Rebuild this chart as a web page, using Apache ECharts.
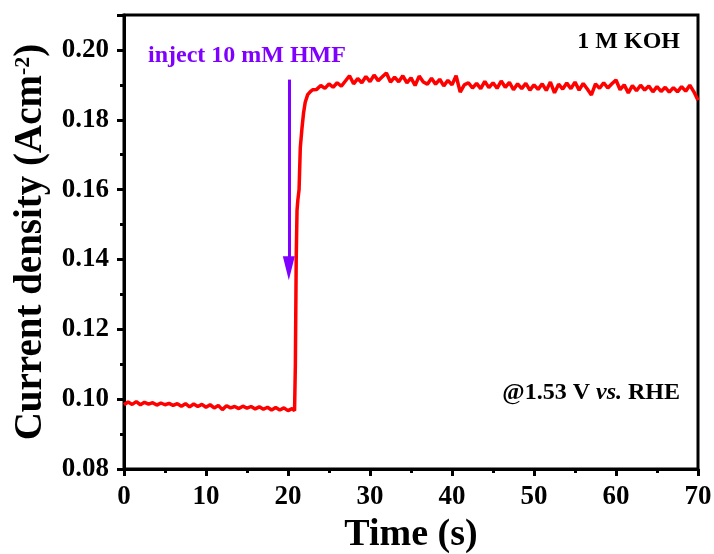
<!DOCTYPE html>
<html>
<head>
<meta charset="utf-8">
<script src="https://cdn.jsdelivr.net/npm/echarts@6/dist/echarts.min.js"></script>
<style>
html,body{margin:0;padding:0;background:#fff;}
#chart{width:714px;height:554px;}
</style>
</head>
<body>
<div id="chart"></div>
<script>
// Time (s)
var times = [
0,0.5,1,1.5,2,2.5,3,3.5,4,4.5,5,5.5,6,6.5,7,7.5,8,8.5,9,9.5,
10,10.5,11,11.5,12,12.5,13,13.5,14,14.5,15,15.5,16,16.5,17,17.5,18,18.5,19,19.5,
20,20.5,20.8,20.9,21.0,21.1,21.2,21.35,21.5,21.7,21.9,22.1,22.4,22.7,23.0,
23.5,24,24.5,25,25.5,26,26.5,27,27.5,28,28.5,29,29.5,
30,30.5,31,31.5,32,32.5,33,33.5,34,34.5,35,35.5,36,36.5,37,37.5,38,38.5,39,39.5,
40,40.5,41,41.5,42,42.5,43,43.5,44,44.5,45,45.5,46,46.5,47,47.5,48,48.5,49,49.5,
50,50.5,51,51.5,52,52.5,53,53.5,54,54.5,55,55.5,56,56.5,57,57.5,58,58.5,59,59.5,
60,60.5,61,61.5,62,62.5,63,63.5,64,64.5,65,65.5,66,66.5,67,67.5,68,68.5,69,69.5,70
];
// Current density (A cm^-2)
var current = [
0.0984,0.0992,0.0985,0.0993,0.0984,0.0991,0.0986,0.0990,0.0983,0.0989,0.0984,0.0988,0.0982,0.0987,0.0980,0.0987,0.0978,0.0986,0.0979,0.0985,
0.0977,0.0984,0.0975,0.0982,0.0970,0.0981,0.0975,0.0979,0.0973,0.0980,0.0974,0.0979,0.0972,0.0978,0.0971,0.0977,0.0969,0.0976,0.0969,0.0975,
0.0967,0.0973,0.0967,0.1100,0.1400,0.1540,0.1570,0.1600,0.1720,0.1775,0.1820,0.1850,0.1872,0.1880,0.1886,
0.1887,0.1898,0.1890,0.1903,0.1893,0.1906,0.1896,0.1911,0.1926,0.1903,0.1918,0.1906,0.1924,
0.1909,0.1928,0.1912,0.1923,0.1934,0.1908,0.1922,0.1909,0.1926,0.1906,0.1920,0.1898,0.1925,0.1908,0.1902,0.1919,0.1902,0.1916,0.1897,0.1913,
0.1900,0.1926,0.1879,0.1900,0.1906,0.1891,0.1904,0.1889,0.1910,0.1892,0.1906,0.1890,0.1911,0.1893,0.1907,0.1886,0.1903,0.1889,0.1904,0.1885,
0.1900,0.1887,0.1903,0.1884,0.1908,0.1877,0.1902,0.1888,0.1905,0.1889,0.1908,0.1885,0.1904,0.1888,0.1871,0.1903,0.1890,0.1906,0.1891,0.1903,
0.1914,0.1886,0.1900,0.1877,0.1898,0.1883,0.1899,0.1885,0.1897,0.1880,0.1895,0.1881,0.1893,0.1879,0.1892,0.1880,0.1895,0.1882,0.1899,0.1880,0.1856
];
// Injection arrow (time, start value, end value)
var arrowTime = 20.1;
var arrowFrom = 0.1915;
var arrowTo = 0.1375;

var FONT = "'Liberation Serif','Times New Roman',serif";
var seriesData = times.map(function (t, i) { return [t, current[i]]; });

var chart = echarts.init(document.getElementById('chart'));
chart.setOption({
  animation: false,
  backgroundColor: '#fff',
  grid: { left: 124, right: 16, top: 15, bottom: 85, outerBoundsMode: 'none', containLabel: false,
    show: true, borderColor: '#000', borderWidth: 3, backgroundColor: 'transparent' },
  xAxis: {
    type: 'value', min: 0, max: 70, interval: 10,
    name: 'Time (s)', nameLocation: 'middle', nameGap: 31,
    nameTextStyle: { fontFamily: FONT, fontWeight: 'bold', fontSize: 38, color: '#000' },
    axisLine: { show: true, lineStyle: { color: '#000', width: 3 } },
    axisTick: { show: true, length: 7, lineStyle: { color: '#000', width: 3 } },
    minorTick: { show: true, splitNumber: 2, length: 4, lineStyle: { color: '#000', width: 3 } },
    splitLine: { show: false },
    axisLabel: { fontFamily: FONT, fontWeight: 'bold', fontSize: 27, color: '#000', margin: 15 }
  },
  yAxis: {
    type: 'value', min: 0.08, max: 0.21, interval: 0.02,
    name: '{a|Current density (Acm}{s|-2}{a|)}', nameLocation: 'middle', nameGap: 56,
    nameTextStyle: {
      rich: {
        a: { fontFamily: FONT, fontWeight: 'bold', fontSize: 39, color: '#000' },
        s: { fontFamily: FONT, fontWeight: 'bold', fontSize: 22, color: '#000', verticalAlign: 'top', padding: [0, 0, 14, 0] }
      }
    },
    axisLine: { show: true, lineStyle: { color: '#000', width: 3 } },
    axisTick: { show: true, length: 7, lineStyle: { color: '#000', width: 3 } },
    minorTick: { show: true, splitNumber: 2, length: 4, lineStyle: { color: '#000', width: 3 } },
    splitLine: { show: false },
    axisLabel: {
      fontFamily: FONT, fontWeight: 'bold', fontSize: 27, color: '#000', margin: 15,
      showMaxLabel: false,
      formatter: function (v) { return v.toFixed(2); }
    }
  },
  series: [{
    type: 'line', data: seriesData, symbol: 'none',
    lineStyle: { color: '#ff0000', width: 3.5 },
    markLine: {
      silent: true, symbol: ['none', 'triangle'], symbolSize: [12, 24],
      label: { show: false },
      lineStyle: { color: '#8000ff', width: 3, type: 'solid' },
      data: [[{ coord: [arrowTime, arrowFrom] }, { coord: [arrowTime, arrowTo] }]]
    }
  }],
  graphic: [
    { type: 'text', left: 148, top: 44, style: { text: 'inject 10 mM HMF', font: 'bold 24px ' + FONT, fill: '#8000ff' } },
    { type: 'text', right: 34, top: 30, style: { text: '1 M KOH', font: 'bold 24px ' + FONT, fill: '#000' } },
    { type: 'text', right: 34, top: 381, style: {
      text: '{n|@1.53 V }{i|vs.}{n| RHE}',
      rich: {
        n: { fontFamily: FONT, fontWeight: 'bold', fontSize: 24, fill: '#000', color: '#000' },
        i: { fontFamily: FONT, fontWeight: 'bold', fontStyle: 'italic', fontSize: 24, fill: '#000', color: '#000' }
      }
    } }
  ]
});
</script>
</body>
</html>
